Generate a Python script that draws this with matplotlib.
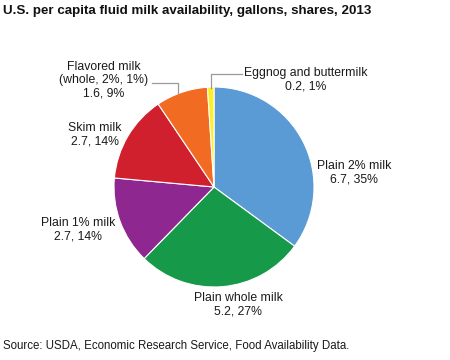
import matplotlib
matplotlib.use("Agg")
import matplotlib.pyplot as plt

categories = ["Plain 2% milk", "Plain whole milk", "Plain 1% milk", "Skim milk",
              "Flavored milk\n(whole, 2%, 1%)", "Eggnog and buttermilk"]
gallons = [6.7, 5.2, 2.7, 2.7, 1.6, 0.2]
shares = [35, 27, 14, 14, 9, 1]
colors = ["#5B9BD5", "#17994A", "#8E278F", "#D0202E", "#F26B22", "#FBEE2C"]

title = "U.S. per capita fluid milk availability, gallons, shares, 2013"
source = "Source: USDA, Economic Research Service, Food Availability Data."

plt.rcParams['font.family'] = ['Liberation Sans', 'DejaVu Sans']

W, H = 450, 360
fig = plt.figure(figsize=(W / 100, H / 100), dpi=100)
ax = fig.add_axes([0, 0, 1, 1])
ax.set_xlim(0, W)
ax.set_ylim(0, H)
ax.axis("off")

cx, cy, r = 214, H - 187, 100
ax.pie(gallons, colors=colors, startangle=90, counterclock=False,
       center=(cx, cy), radius=r,
       wedgeprops=dict(edgecolor="white", linewidth=0.8))
ax.set_xlim(0, W)
ax.set_ylim(0, H)
ax.set_aspect("auto")

def lab(i, x, y):
    ax.text(x, H - y, f"{categories[i]}\n{gallons[i]}, {shares[i]}%",
            ha="center", va="top", fontsize=8.8, color="#1a1a1a", linespacing=1.15)

lab(0, 354, 160)
lab(1, 238, 292)
lab(2, 78, 217)
lab(3, 95, 122)
lab(4, 104, 61)
lab(5, 306, 67)

gray = "#9a9a9a"
ax.plot([152, 178, 178], [H - 83, H - 83, H - 93], color=gray, lw=0.9)
ax.plot([242, 211, 211], [H - 74, H - 74, H - 88], color=gray, lw=0.9)

fig.text(3 / W, 1 - 11 / H, title, ha="left", va="center", fontsize=9.6,
         fontweight="bold", color="#111111")
fig.text(3 / W, 1 - 346 / H, source, ha="left", va="center", fontsize=8.3,
         color="#1a1a1a")

fig.savefig("out.png", dpi=100)
